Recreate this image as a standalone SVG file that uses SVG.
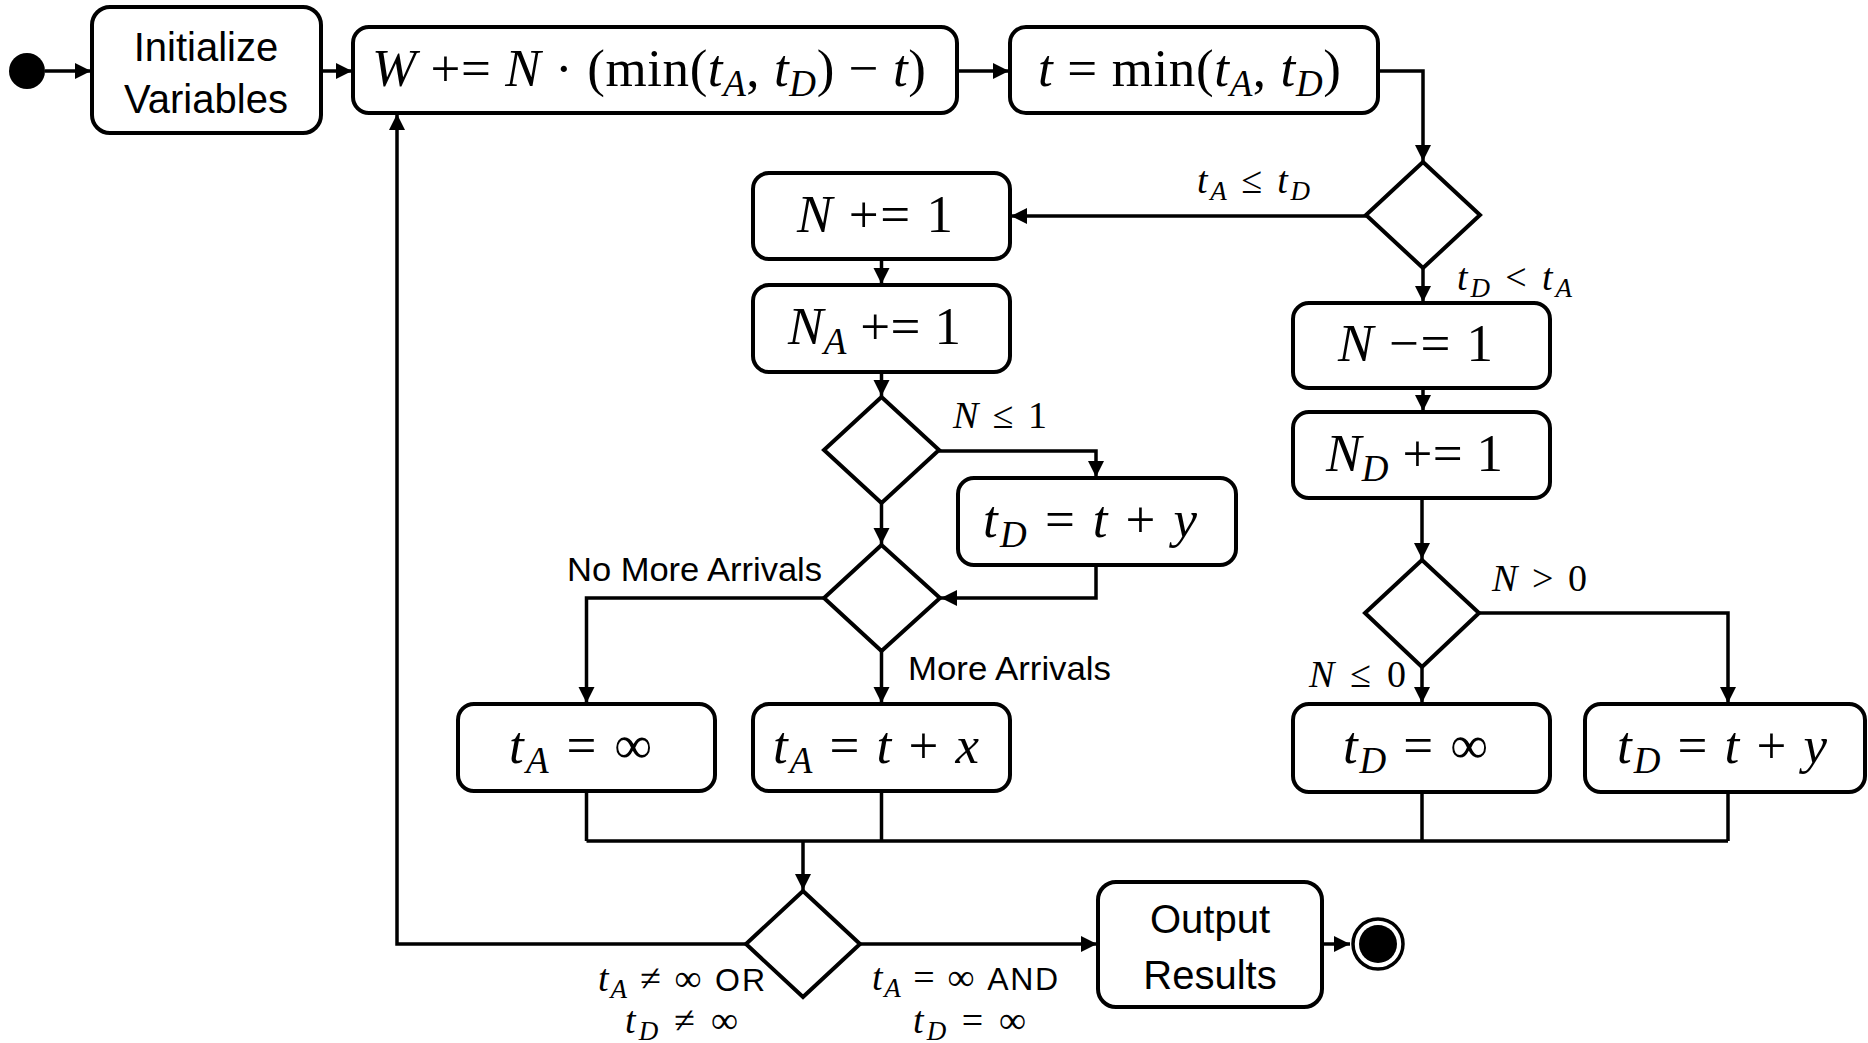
<svg xmlns="http://www.w3.org/2000/svg" width="1868" height="1043" viewBox="0 0 1868 1043">
<style>
.box{fill:#fff;stroke:#000;stroke-width:4}
.dia{fill:#fff;stroke:#000;stroke-width:4}
.ln{fill:none;stroke:#000;stroke-width:3.5}
.sans{font-family:"Liberation Sans",Arial,sans-serif;fill:#000}
.bt{font-size:40px;text-anchor:middle}
.lbl{font-size:33px}
.m{font-family:"Liberation Serif","Times New Roman",serif;fill:#000;font-size:53px}
.ml{font-family:"Liberation Serif","Times New Roman",serif;fill:#000;font-size:38px}
.i{font-style:italic}
.sb{font-size:37px;font-style:italic}
.sbl{font-size:27px;font-style:italic}
.ws{font-family:"Liberation Sans",Arial,sans-serif;font-size:32px}
</style>
<defs>
<marker id="ah" markerUnits="userSpaceOnUse" markerWidth="18" markerHeight="18" refX="16" refY="8" orient="auto">
<path d="M0,0 L16,8 L0,16 Z" fill="#000"/>
</marker>
</defs>

<g id="connectors">
<path class="ln" d="M45,71 H91" marker-end="url(#ah)"/>
<path class="ln" d="M321,71 H352" marker-end="url(#ah)"/>
<path class="ln" d="M957,71 H1009" marker-end="url(#ah)"/>
<path class="ln" d="M1378,71 H1423 V161" marker-end="url(#ah)"/>
<path class="ln" d="M1366,216 H1011" marker-end="url(#ah)"/>
<path class="ln" d="M1423,268 V302" marker-end="url(#ah)"/>
<path class="ln" d="M881.5,259 V284" marker-end="url(#ah)"/>
<path class="ln" d="M881.5,372 V396" marker-end="url(#ah)"/>
<path class="ln" d="M939,451 H1096 V477" marker-end="url(#ah)"/>
<path class="ln" d="M881.5,503 V544" marker-end="url(#ah)"/>
<path class="ln" d="M1096,565 V598 H941" marker-end="url(#ah)"/>
<path class="ln" d="M824,598 H586.5 V703" marker-end="url(#ah)"/>
<path class="ln" d="M881.5,651 V703" marker-end="url(#ah)"/>
<path class="ln" d="M1423,388 V411" marker-end="url(#ah)"/>
<path class="ln" d="M1422,498 V559" marker-end="url(#ah)"/>
<path class="ln" d="M1479,613 H1728 V703" marker-end="url(#ah)"/>
<path class="ln" d="M1422,667 V703" marker-end="url(#ah)"/>
<path class="ln" d="M586.5,791 V841 M881.5,791 V841 M1422,792 V841 M1728,792 V841 M586.5,841 H1728"/>
<path class="ln" d="M803,841 V890" marker-end="url(#ah)"/>
<path class="ln" d="M746,944 H397 V114" marker-end="url(#ah)"/>
<path class="ln" d="M860,944 H1097" marker-end="url(#ah)"/>
<path class="ln" d="M1322,944 H1350" marker-end="url(#ah)"/>
</g>

<g id="start"><circle cx="27" cy="71" r="18" fill="#000"/></g>

<g id="init">
<rect class="box" x="92" y="7" width="229" height="126" rx="18"/>
<text class="sans bt" x="206" y="61">Initialize</text>
<text class="sans bt" x="206" y="113">Variables</text>
</g>

<g id="accumulate">
<rect class="box" x="353" y="27" width="604" height="86" rx="16"/>
<text class="m" x="372" y="86" textLength="554" lengthAdjust="spacing"><tspan class="i">W</tspan> += <tspan class="i">N</tspan> · (min(<tspan class="i">t</tspan><tspan class="sb" dy="10">A</tspan><tspan dy="-10">, </tspan><tspan class="i">t</tspan><tspan class="sb" dy="10">D</tspan><tspan dy="-10">) − </tspan><tspan class="i">t</tspan>)</text>
</g>

<g id="advance">
<rect class="box" x="1010" y="27" width="368" height="86" rx="16"/>
<text class="m" x="1038" y="86" textLength="303" lengthAdjust="spacing"><tspan class="i">t</tspan> = min(<tspan class="i">t</tspan><tspan class="sb" dy="10">A</tspan><tspan dy="-10">, </tspan><tspan class="i">t</tspan><tspan class="sb" dy="10">D</tspan><tspan dy="-10">)</tspan></text>
</g>

<g id="d1">
<polygon class="dia" points="1423,162 1480,215 1423,268 1366,215"/>
<text class="ml" x="1197" y="193" textLength="113" lengthAdjust="spacing"><tspan class="i">t</tspan><tspan class="sbl" dy="7">A</tspan><tspan dy="-7"> ≤ </tspan><tspan class="i">t</tspan><tspan class="sbl" dy="7">D</tspan></text>
<text class="ml" x="1457" y="290" textLength="115" lengthAdjust="spacing"><tspan class="i">t</tspan><tspan class="sbl" dy="7">D</tspan><tspan dy="-7"> &lt; </tspan><tspan class="i">t</tspan><tspan class="sbl" dy="7">A</tspan></text>
</g>

<g id="n-inc">
<rect class="box" x="753" y="173" width="257" height="86" rx="16"/>
<text class="m" x="797" y="232" textLength="156" lengthAdjust="spacing"><tspan class="i">N</tspan> += 1</text>
</g>

<g id="na-inc">
<rect class="box" x="753" y="285" width="257" height="87" rx="16"/>
<text class="m" x="788" y="344" textLength="173" lengthAdjust="spacing"><tspan class="i">N</tspan><tspan class="sb" dy="10">A</tspan><tspan dy="-10"> += 1</tspan></text>
</g>

<g id="d2">
<polygon class="dia" points="881.5,397 939,450 881.5,503 824,450"/>
<text class="ml" x="953" y="428" textLength="94" lengthAdjust="spacing"><tspan class="i">N</tspan> ≤ 1</text>
</g>

<g id="td-mid">
<rect class="box" x="958" y="478" width="278" height="87" rx="16"/>
<text class="m" x="983" y="537" textLength="214" lengthAdjust="spacing"><tspan class="i">t</tspan><tspan class="sb" dy="10">D</tspan><tspan dy="-10"> = </tspan><tspan class="i">t</tspan> + <tspan class="i">y</tspan></text>
</g>

<g id="d3">
<polygon class="dia" points="881.5,545 940,598 881.5,651 824,598"/>
<text class="sans lbl" x="567" y="581" textLength="255" lengthAdjust="spacingAndGlyphs">No More Arrivals</text>
<text class="sans lbl" x="908" y="680" textLength="203" lengthAdjust="spacingAndGlyphs">More Arrivals</text>
</g>

<g id="ta-inf">
<rect class="box" x="458" y="704" width="257" height="87" rx="16"/>
<text class="m" x="509" y="763" textLength="143" lengthAdjust="spacing"><tspan class="i">t</tspan><tspan class="sb" dy="10">A</tspan><tspan dy="-10"> = ∞</tspan></text>
</g>

<g id="ta-next">
<rect class="box" x="753" y="704" width="257" height="87" rx="16"/>
<text class="m" x="773" y="763" textLength="206" lengthAdjust="spacing"><tspan class="i">t</tspan><tspan class="sb" dy="10">A</tspan><tspan dy="-10"> = </tspan><tspan class="i">t</tspan> + <tspan class="i">x</tspan></text>
</g>

<g id="n-dec">
<rect class="box" x="1293" y="303" width="257" height="85" rx="16"/>
<text class="m" x="1338" y="361" textLength="155" lengthAdjust="spacing"><tspan class="i">N</tspan> −= 1</text>
</g>

<g id="nd-inc">
<rect class="box" x="1293" y="412" width="257" height="86" rx="16"/>
<text class="m" x="1326" y="471" textLength="177" lengthAdjust="spacing"><tspan class="i">N</tspan><tspan class="sb" dy="10">D</tspan><tspan dy="-10"> += 1</tspan></text>
</g>

<g id="d4">
<polygon class="dia" points="1422,560 1479,613 1422,667 1365,613"/>
<text class="ml" x="1492" y="591" textLength="95" lengthAdjust="spacing"><tspan class="i">N</tspan> &gt; 0</text>
<text class="ml" x="1309" y="687" textLength="97" lengthAdjust="spacing"><tspan class="i">N</tspan> ≤ 0</text>
</g>

<g id="td-inf">
<rect class="box" x="1293" y="704" width="257" height="88" rx="16"/>
<text class="m" x="1343" y="763" textLength="145" lengthAdjust="spacing"><tspan class="i">t</tspan><tspan class="sb" dy="10">D</tspan><tspan dy="-10"> = ∞</tspan></text>
</g>

<g id="td-next">
<rect class="box" x="1585" y="704" width="280" height="88" rx="16"/>
<text class="m" x="1617" y="763" textLength="210" lengthAdjust="spacing"><tspan class="i">t</tspan><tspan class="sb" dy="10">D</tspan><tspan dy="-10"> = </tspan><tspan class="i">t</tspan> + <tspan class="i">y</tspan></text>
</g>

<g id="d5">
<polygon class="dia" points="803,891 860,944 803,997 746,944"/>
<text class="ml" x="598" y="991" textLength="167" lengthAdjust="spacing"><tspan class="i">t</tspan><tspan class="sbl" dy="7">A</tspan><tspan dy="-7"> ≠ ∞ </tspan><tspan class="ws">OR</tspan></text>
<text class="ml" x="625" y="1033" textLength="113" lengthAdjust="spacing"><tspan class="i">t</tspan><tspan class="sbl" dy="7">D</tspan><tspan dy="-7"> ≠ ∞</tspan></text>
<text class="ml" x="872" y="990" textLength="186" lengthAdjust="spacing"><tspan class="i">t</tspan><tspan class="sbl" dy="7">A</tspan><tspan dy="-7"> = ∞ </tspan><tspan class="ws">AND</tspan></text>
<text class="ml" x="913" y="1033" textLength="113" lengthAdjust="spacing"><tspan class="i">t</tspan><tspan class="sbl" dy="7">D</tspan><tspan dy="-7"> = ∞</tspan></text>
</g>

<g id="output">
<rect class="box" x="1098" y="882" width="224" height="125" rx="18"/>
<text class="sans bt" x="1210" y="933">Output</text>
<text class="sans bt" x="1210" y="989">Results</text>
</g>

<g id="end">
<circle cx="1378" cy="944" r="25" fill="#fff" stroke="#000" stroke-width="3.5"/>
<circle cx="1378" cy="944" r="19" fill="#000"/>
</g>
</svg>
